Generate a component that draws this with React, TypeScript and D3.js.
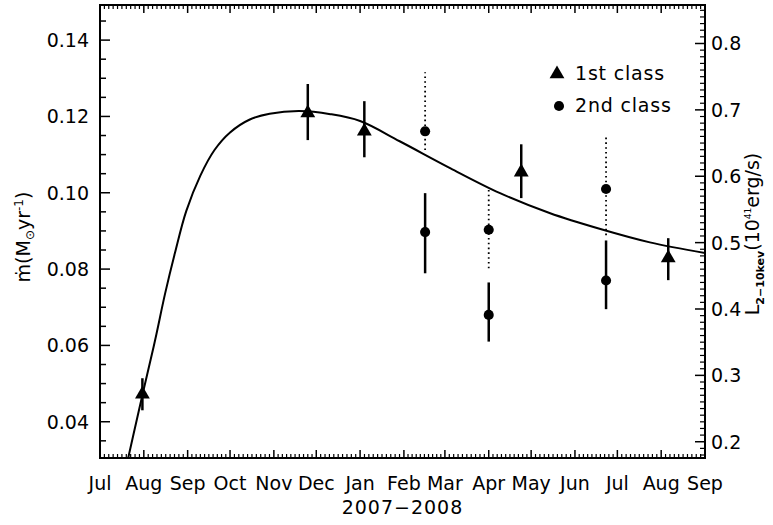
import React from "react";
import * as d3 from "d3";

// ---- frame and text settings ----
const W = 773;
const H = 525;
const PL = 100;
const PR = 705;
const PT = 5;
const PB = 458;
const FONT = "'DejaVu Sans', sans-serif";
const FS = 19;

// ---- axes ----
const xStart = "2007-07-01";
const xEnd = "2008-09-01";
const monthLabels = ["Jul", "Aug", "Sep", "Oct", "Nov", "Dec", "Jan", "Feb", "Mar", "Apr", "May", "Jun", "Jul", "Aug", "Sep"];
const yearLabel = "2007\u22122008";
const leftDomain = [0.0305, 0.1492];
const leftTicks = [0.04, 0.06, 0.08, 0.1, 0.12, 0.14];
const rightDomain = [0.1755, 0.858];
const rightTicks = [0.2, 0.3, 0.4, 0.5, 0.6, 0.7, 0.8];

// ---- model accretion-rate curve ----
const modelDates = [
  "2007-07-17", "2007-07-31", "2007-08-09", "2007-08-16", "2007-08-23", "2007-08-31",
  "2007-09-10", "2007-09-20", "2007-10-01", "2007-10-15", "2007-10-29", "2007-11-19",
  "2007-12-11", "2008-01-01", "2008-01-29", "2008-03-05", "2008-04-09", "2008-05-14",
  "2008-06-19", "2008-07-24", "2008-09-01",
];
const modelMdot = [
  0.024, 0.047, 0.0614, 0.0735, 0.0842, 0.0952,
  0.1045, 0.1112, 0.1158, 0.1192, 0.1207, 0.1214,
  0.1206, 0.1188, 0.1135, 0.1064, 0.0999, 0.0947,
  0.0905, 0.087, 0.0842,
];

// ---- 1st class observations ----
const firstDates = ["2007-07-31", "2007-11-25", "2008-01-04", "2008-04-24", "2008-08-06"];
const firstMdot = [0.0472, 0.1209, 0.1161, 0.1054, 0.0829];
const firstLo = [0.043, 0.1138, 0.1093, 0.0986, 0.0771];
const firstHi = [0.0514, 0.1285, 0.124, 0.1127, 0.0881];

// ---- 2nd class observations: upper estimate (dotted) and lower estimate (solid) ----
const secondDates = ["2008-02-16", "2008-04-01", "2008-06-23"];
const secondUpper = [0.1161, 0.0903, 0.101];
const secondUpperLo = [0.1112, 0.0802, 0.0889];
const secondUpperHi = [0.1316, 0.1007, 0.1151];
const secondLower = [0.0897, 0.068, 0.077];
const secondLowerLo = [0.0789, 0.061, 0.0695];
const secondLowerHi = [0.0999, 0.0765, 0.0875];

const legendItems = ["1st class", "2nd class"];

export default function App() {
  const parse = (s: string) => new Date(s + "T00:00:00Z");
  const x = d3.scaleUtc().domain([parse(xStart), parse(xEnd)]).range([PL, PR]);
  const yL = d3.scaleLinear().domain(leftDomain).range([PB, PT]);
  const yR = d3.scaleLinear().domain(rightDomain).range([PB, PT]);

  const months = d3.utcMonth.range(parse(xStart), d3.utcDay.offset(parse(xEnd), 1));
  const minorX: Date[] = [];
  for (let i = 0; i < months.length - 1; i++) {
    const t0 = +months[i];
    const t1 = +months[i + 1];
    for (let k = 1; k < 10; k++) minorX.push(new Date(t0 + ((t1 - t0) * k) / 10));
  }
  const leftMinor = d3.range(0.035, leftDomain[1], 0.005).filter(
    (v) => !leftTicks.some((t) => Math.abs(t - v) < 1e-6)
  );
  const rightMinor = d3.range(0.18, rightDomain[1], 0.01).filter(
    (v) => !rightTicks.some((t) => Math.abs(t - v) < 1e-6)
  );

  const curve = d3
    .line<number>()
    .x((_, i) => x(parse(modelDates[i])))
    .y((d) => yL(d))
    .curve(d3.curveCatmullRom.alpha(0.5))(modelMdot) as string;

  const tri = d3.symbol(d3.symbolTriangle, 95)() as string;
  const dot = d3.symbol(d3.symbolCircle, 80)() as string;

  const stroke = "#000";
  const frameW = 2;

  return (
    <svg
      width={W}
      height={H}
      style={{ position: "absolute", left: 0, top: 0, background: "#fff" }}
      fontFamily={FONT}
    >
      <defs>
        <clipPath id="plotArea">
          <rect x={PL} y={PT} width={PR - PL} height={PB - PT} />
        </clipPath>
      </defs>
      <rect width={W} height={H} fill="#fff" />

      {/* bottom and top month ticks */}
      {months.map((m, i) => (
        <g key={"mx" + i}>
          <line x1={x(m)} x2={x(m)} y1={PB} y2={PB - 8} stroke={stroke} strokeWidth={1.5} />
          <line x1={x(m)} x2={x(m)} y1={PT} y2={PT + 8} stroke={stroke} strokeWidth={1.5} />
        </g>
      ))}
      {minorX.map((m, i) => (
        <g key={"nx" + i}>
          <line x1={x(m)} x2={x(m)} y1={PB} y2={PB - 4} stroke={stroke} strokeWidth={1.2} />
          <line x1={x(m)} x2={x(m)} y1={PT} y2={PT + 4} stroke={stroke} strokeWidth={1.2} />
        </g>
      ))}
      {months.map((m, i) => (
        <text key={"ml" + i} x={x(m)} y={490} fontSize={FS} textAnchor="middle">
          {monthLabels[i]}
        </text>
      ))}
      <text x={(PL + PR) / 2} y={514} fontSize={FS} textAnchor="middle" letterSpacing={1}>
        {yearLabel}
      </text>

      {/* left axis */}
      {leftTicks.map((t) => (
        <g key={"lt" + t}>
          <line x1={PL} x2={PL + 10} y1={yL(t)} y2={yL(t)} stroke={stroke} strokeWidth={1.5} />
          <text x={89} y={yL(t) + 7} fontSize={FS} textAnchor="end">
            {t.toFixed(2)}
          </text>
        </g>
      ))}
      {leftMinor.map((t) => (
        <line key={"ln" + t} x1={PL} x2={PL + 6} y1={yL(t)} y2={yL(t)} stroke={stroke} strokeWidth={1.5} />
      ))}
      <text transform="translate(30,237) rotate(-90)" fontSize={FS} textAnchor="middle">
        {"\u1E41(M"}
        <tspan fontSize={12} dy={4}>{"\u2299"}</tspan>
        <tspan dy={-4}>yr</tspan>
        <tspan fontSize={12} dy={-7}>{"-1"}</tspan>
        <tspan dy={7}>)</tspan>
      </text>

      {/* right axis */}
      {rightTicks.map((t) => (
        <g key={"rt" + t}>
          <line x1={PR} x2={PR - 10} y1={yR(t)} y2={yR(t)} stroke={stroke} strokeWidth={1.5} />
          <text x={711} y={yR(t) + 7} fontSize={FS} textAnchor="start">
            {t.toFixed(1)}
          </text>
        </g>
      ))}
      {rightMinor.map((t) => (
        <line key={"rn" + t} x1={PR} x2={PR - 5} y1={yR(t)} y2={yR(t)} stroke={stroke} strokeWidth={1.2} />
      ))}
      <text transform="translate(759,234) rotate(-90)" fontSize={FS} textAnchor="middle">
        L
        <tspan fontSize={11} fontWeight="bold" dy={5}>{"2\u221210kev"}</tspan>
        <tspan dy={-5}>(10</tspan>
        <tspan fontSize={9} dy={-8}>41</tspan>
        <tspan dy={8}>erg/s)</tspan>
      </text>

      {/* model curve */}
      <path d={curve} fill="none" stroke={stroke} strokeWidth={2} clipPath="url(#plotArea)" />

      {/* 1st class points */}
      {firstDates.map((d, i) => {
        const cx = x(parse(d));
        return (
          <g key={"f" + i}>
            <line x1={cx} x2={cx} y1={yL(firstLo[i])} y2={yL(firstHi[i])} stroke={stroke} strokeWidth={2.5} />
            <path d={tri} transform={`translate(${cx},${yL(firstMdot[i])})`} fill={stroke} />
          </g>
        );
      })}

      {/* 2nd class points */}
      {secondDates.map((d, i) => {
        const cx = x(parse(d));
        return (
          <g key={"s" + i}>
            <line
              x1={cx}
              x2={cx}
              y1={yL(secondUpperLo[i])}
              y2={yL(secondUpperHi[i])}
              stroke={stroke}
              strokeWidth={1.8}
              strokeDasharray="1.6,3.2"
            />
            <path d={dot} transform={`translate(${cx},${yL(secondUpper[i])})`} fill={stroke} />
            <line x1={cx} x2={cx} y1={yL(secondLowerLo[i])} y2={yL(secondLowerHi[i])} stroke={stroke} strokeWidth={2.5} />
            <path d={dot} transform={`translate(${cx},${yL(secondLower[i])})`} fill={stroke} />
          </g>
        );
      })}

      {/* legend */}
      <path d={tri} transform="translate(557,74)" fill={stroke} />
      <text x={575} y={80} fontSize={FS} letterSpacing={0.8}>{legendItems[0]}</text>
      <path d={dot} transform="translate(559,106)" fill={stroke} />
      <text x={575} y={112} fontSize={FS} letterSpacing={0.8}>{legendItems[1]}</text>

      {/* frame */}
      <rect x={PL} y={PT} width={PR - PL} height={PB - PT} fill="none" stroke={stroke} strokeWidth={frameW} />
    </svg>
  );
}
